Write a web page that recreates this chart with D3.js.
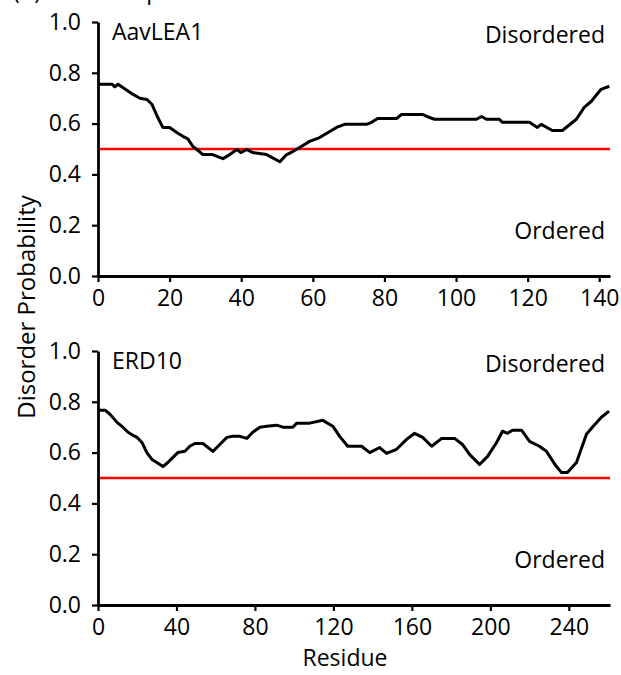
<!doctype html>
<html>
<head>
<meta charset="utf-8">
<title>Disorder prediction</title>
<style>
  body { margin: 0; background: #fff; }
  svg text { font-family: "Open Sans", sans-serif; fill: #000; }
</style>
</head>
<body>
<svg width="621" height="675"></svg>
<script src="https://d3js.org/d3.v7.min.js"></script>
<script>

// AavLEA1 (top)
var aavRes  = [0, 3.9, 4.7, 5.6, 9.8, 11.7, 13.7, 15.1, 16.5, 18.1, 20, 22, 23.7, 25.1, 26.5, 27.6, 29.3, 32, 34.9, 36.8, 38.8, 39.9, 41.5, 43.2, 47.1, 50.8, 52.7, 54.4, 56.3, 59.1, 61.9, 66.6, 68.9, 75, 76.4, 78.1, 83.4, 84.8, 90.6, 92.6, 94, 105.7, 107.1, 108.5, 112.1, 112.9, 120.5, 122.7, 123.8, 126.9, 129.7, 133.6, 135.8, 137.8, 140.5, 142.8];
var aavProb = [0.755, 0.755, 0.745, 0.755, 0.715, 0.70, 0.695, 0.675, 0.63, 0.585, 0.585, 0.565, 0.55, 0.54, 0.51, 0.498, 0.478, 0.478, 0.462, 0.478, 0.498, 0.486, 0.498, 0.486, 0.478, 0.45, 0.478, 0.49, 0.506, 0.53, 0.545, 0.585, 0.597, 0.597, 0.605, 0.62, 0.62, 0.636, 0.636, 0.624, 0.617, 0.617, 0.628, 0.617, 0.617, 0.605, 0.605, 0.585, 0.597, 0.573, 0.573, 0.617, 0.664, 0.688, 0.735, 0.747];

// ERD10 (bottom)
var erdRes  = [0, 3.6, 6.1, 9.7, 12.7, 15.3, 17.8, 19.9, 22.4, 24.9, 27.5, 30, 33.1, 35.6, 38.2, 40.7, 44.3, 46.8, 49.4, 53.5, 58.6, 62.1, 65.7, 68.7, 72.3, 75.9, 78.9, 82.5, 86, 91.1, 94.2, 99.3, 101.3, 107.9, 114.6, 119.7, 123.2, 127.3, 130.9, 134.4, 138.5, 143.6, 147.1, 152.2, 157.3, 161.4, 165.5, 170.1, 175.2, 181.8, 185.8, 189.4, 194.5, 198.6, 203.2, 206.2, 208.8, 211.3, 215.9, 220, 225, 228.6, 233.7, 236.3, 239.3, 243.9, 249, 252, 256.6, 260.5];
var erdProb = [0.767, 0.767, 0.751, 0.719, 0.70, 0.68, 0.668, 0.66, 0.64, 0.60, 0.573, 0.561, 0.545, 0.561, 0.581, 0.60, 0.605, 0.625, 0.636, 0.636, 0.605, 0.632, 0.66, 0.664, 0.664, 0.656, 0.68, 0.70, 0.704, 0.708, 0.70, 0.70, 0.716, 0.716, 0.727, 0.704, 0.664, 0.625, 0.625, 0.625, 0.60, 0.62, 0.597, 0.613, 0.652, 0.676, 0.66, 0.625, 0.656, 0.656, 0.632, 0.593, 0.553, 0.585, 0.64, 0.684, 0.676, 0.688, 0.688, 0.644, 0.625, 0.605, 0.545, 0.522, 0.522, 0.561, 0.672, 0.70, 0.739, 0.763];

var yTicks = [0, 0.2, 0.4, 0.6, 0.8, 1.0];
var aavTicks = [0, 20, 40, 60, 80, 100, 120, 140];
var erdTicks = [0, 40, 80, 120, 160, 200, 240];
var threshold = 0.5;

var svg = d3.select("svg");

function panel(opts) {
  var x = d3.scaleLinear().domain([0, opts.len]).range([98, 610]);
  var y = d3.scaleLinear().domain([0, 1]).range([opts.bottom, opts.bottom - 254]);
  var g = svg.append("g");

  var data = opts.res.map(function(r, i) { return [r, opts.prob[i]]; });

  // threshold line
  g.append("line")
      .attr("x1", x(0)).attr("x2", x(opts.len))
      .attr("y1", y(threshold)).attr("y2", y(threshold))
      .attr("stroke", "#ff0000").attr("stroke-width", 2.5);

  g.append("path")
      .datum(data)
      .attr("fill", "none")
      .attr("stroke", "#000")
      .attr("stroke-width", 3)
      .attr("stroke-linejoin", "round")
      .attr("d", d3.line().x(function(d) { return x(d[0]); }).y(function(d) { return y(d[1]); }));

  var xa = g.append("g")
      .attr("transform", "translate(0," + opts.bottom + ")")
      .call(d3.axisBottom(x).tickValues(opts.ticks).tickSize(6).tickSizeOuter(0).tickPadding(8));
  var ya = g.append("g")
      .attr("transform", "translate(98,0)")
      .call(d3.axisLeft(y).tickValues(yTicks).tickFormat(d3.format(".1f")).tickSize(6).tickSizeOuter(0).tickPadding(11));

  [xa, ya].forEach(function(a) {
    a.select(".domain").attr("stroke-width", 2.8);
    a.selectAll(".tick line").attr("stroke-width", 2.2);
    a.selectAll(".tick text").style("font-size", "23px").attr("fill", "#000");
  });

  g.append("text").attr("x", 112).attr("y", opts.bottom - 236)
      .style("font-size", "23px").text(opts.name);
  g.append("text").attr("x", 605).attr("y", opts.bottom - 233)
      .attr("text-anchor", "end").style("font-size", "23px").text("Disordered");
  g.append("text").attr("x", 605).attr("y", opts.bottom - 37)
      .attr("text-anchor", "end").style("font-size", "23px").text("Ordered");
}

panel({ name: "AavLEA1", res: aavRes, prob: aavProb, len: 143, ticks: aavTicks, bottom: 276 });
panel({ name: "ERD10", res: erdRes, prob: erdProb, len: 261, ticks: erdTicks, bottom: 605 });

svg.append("text")
    .attr("transform", "translate(35,307) rotate(-90)")
    .attr("text-anchor", "middle")
    .style("font-size", "24px")
    .text("Disorder Probability");

svg.append("text")
    .attr("x", 345).attr("y", 666)
    .attr("text-anchor", "middle")
    .style("font-size", "23px")
    .text("Residue");

// panel heading, cut off at the top edge in the source
svg.append("text")
    .attr("x", 13).attr("y", -1)
    .style("font-size", "23px")
    .text("(A) Disorder prediction");

</script>
</body>
</html>
